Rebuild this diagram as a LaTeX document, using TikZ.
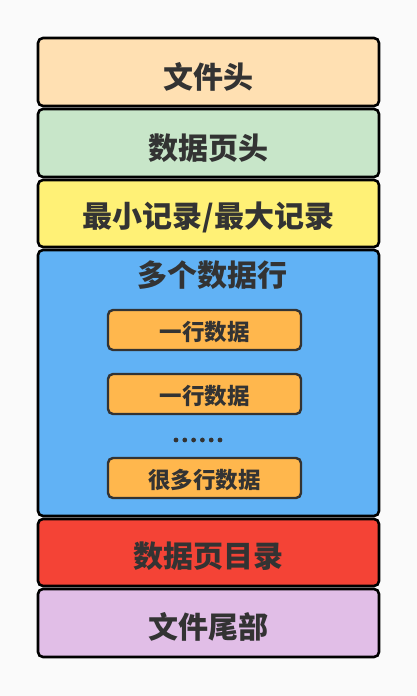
\documentclass[tikz,border=0pt]{standalone}
\usepackage{fontspec}
\setmainfont{Noto Sans CJK SC}
\definecolor{bg}{HTML}{FAFAFA}
\definecolor{cA}{HTML}{FFE0B2}
\definecolor{cB}{HTML}{C8E6C9}
\definecolor{cC}{HTML}{FFF176}
\definecolor{cD}{HTML}{61B2F5}
\definecolor{cE}{HTML}{F44336}
\definecolor{cF}{HTML}{E1BEE7}
\definecolor{cG}{HTML}{FFB74D}
\definecolor{txt}{HTML}{333333}
\begin{document}
\begin{tikzpicture}[x=1pt,y=-1pt,
  layer/.style={draw=black,line width=2.6pt,rounded corners=5pt},
  rowbox/.style={draw=txt,line width=2.4pt,rounded corners=5pt,fill=cG},
  big/.style={text=txt,font=\fontsize{30}{34}\selectfont\bfseries},
  small/.style={text=txt,font=\fontsize{22.5}{26}\selectfont\bfseries}]
\fill[bg] (0,0) rectangle (417,696);
\useasboundingbox (0,0) rectangle (417,696);
\draw[layer,fill=cA] (38,38) rectangle (379,106);
\draw[layer,fill=cB] (38,109) rectangle (379,177);
\draw[layer,fill=cC] (38,180) rectangle (379,247);
\draw[layer,fill=cD] (38,250) rectangle (379,516);
\draw[layer,fill=cE] (38,519) rectangle (379,586);
\draw[layer,fill=cF] (38,589) rectangle (379,657);
\node[big] (h1) at (208.5,77) {文件头};
\node[big] (h2) at (208.5,148.5) {数据页头};
\node[big] (h3) at (208.5,217) {最小记录/最大记录};
\node[big] (h4) at (212.5,275) {多个数据行};
\node[big] (h5) at (208.5,556) {数据页目录};
\node[big] (h6) at (208.5,627) {文件尾部};
\draw[rowbox] (108,310) rectangle (301,350);
\draw[rowbox] (108,374) rectangle (301,414);
\draw[rowbox] (108,458) rectangle (301,498);
\node[small] (r1) at (204.5,332) {一行数据};
\node[small] (r2) at (204.5,396) {一行数据};
\node[small] (r3) at (204.5,480) {很多行数据};
\foreach \i in {0,...,5} \fill[txt] (176+\i*8.8,440) circle (2.4pt);
\end{tikzpicture}
\end{document}
